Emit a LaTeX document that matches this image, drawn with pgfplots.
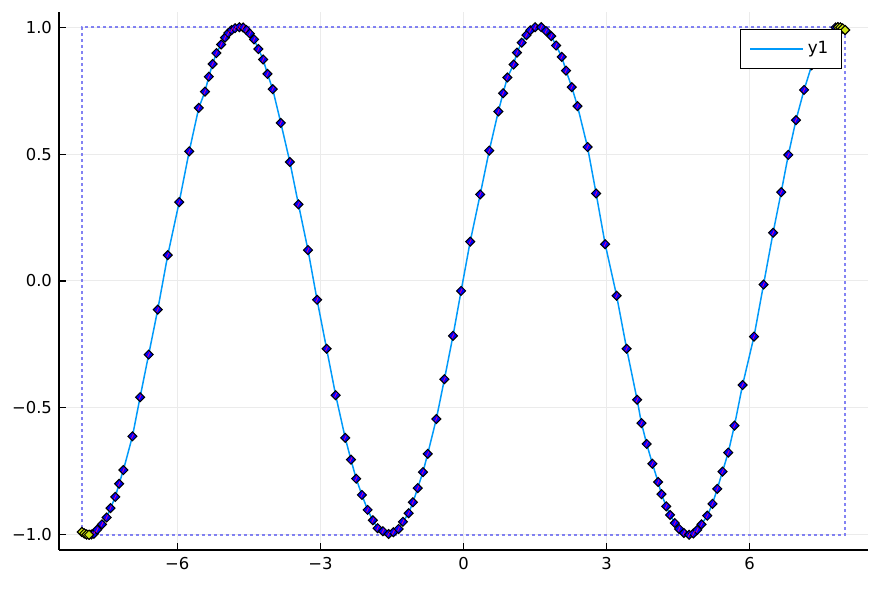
\documentclass[border=0pt]{standalone}
\usepackage{fontspec}
\setmainfont{DejaVu Sans}
\usepackage{pgfplots}
\pgfplotsset{compat=1.18}
\usepackage{pgfplotstable}

\definecolor{juliablue}{RGB}{0,154,250}
\definecolor{boxblue}{RGB}{100,100,240}

% points
\pgfplotstableread{
x y
-8.00 -0.989
-7.95 -0.995
-7.90 -0.999
-7.85 -1.000
-7.80 -0.999
-7.75 -0.996
-7.68 -0.980
-7.58 -0.959
-7.48 -0.932
-7.40 -0.895
-7.30 -0.851
-7.22 -0.799
-7.13 -0.745
-6.94 -0.612
-6.78 -0.458
-6.60 -0.290
-6.41 -0.113
-6.20 0.102
-5.96 0.311
-5.75 0.511
-5.55 0.682
-5.42 0.746
-5.34 0.805
-5.26 0.855
-5.18 0.898
-5.08 0.932
-5.00 0.959
-4.93 0.977
-4.86 0.989
-4.79 0.996
-4.70 1.000
-4.62 0.999
-4.55 0.989
-4.48 0.975
-4.39 0.952
-4.30 0.914
-4.20 0.873
-4.11 0.816
-4.00 0.756
-3.83 0.623
-3.64 0.469
-3.46 0.302
-3.26 0.122
-3.07 -0.074
-2.87 -0.267
-2.68 -0.450
-2.48 -0.618
-2.36 -0.704
-2.25 -0.779
-2.13 -0.843
-2.01 -0.902
-1.90 -0.943
-1.80 -0.974
-1.69 -0.986
-1.57 -0.997
-1.47 -0.990
-1.36 -0.977
-1.27 -0.949
-1.15 -0.915
-1.06 -0.872
-0.96 -0.816
-0.85 -0.753
-0.75 -0.681
-0.57 -0.544
-0.40 -0.387
-0.22 -0.216
-0.05 -0.039
0.14 0.155
0.35 0.341
0.54 0.514
0.73 0.668
0.83 0.740
0.92 0.802
1.05 0.853
1.12 0.900
1.22 0.939
1.32 0.969
1.40 0.988
1.50 1.000
1.63 1.000
1.73 0.985
1.84 0.965
1.94 0.928
2.06 0.883
2.15 0.829
2.27 0.764
2.39 0.689
2.60 0.528
2.78 0.345
2.97 0.145
3.21 -0.058
3.42 -0.267
3.64 -0.468
3.73 -0.560
3.84 -0.642
3.96 -0.720
4.08 -0.792
4.15 -0.840
4.25 -0.888
4.33 -0.922
4.43 -0.954
4.52 -0.977
4.62 -0.993
4.73 -1.000
4.82 -0.995
4.90 -0.981
4.99 -0.959
5.11 -0.925
5.22 -0.878
5.32 -0.819
5.43 -0.751
5.55 -0.676
5.68 -0.570
5.85 -0.410
6.09 -0.219
6.29 -0.014
6.49 0.190
6.66 0.350
6.81 0.497
6.97 0.634
7.14 0.753
7.30 0.850
7.48 0.930
7.63 0.971
7.80 0.999
7.85 1.000
7.90 0.999
7.95 0.995
8.00 0.989
}\sinedata

\begin{document}
\begin{tikzpicture}
\begin{axis}[
    scale only axis,
    width=404.5pt, height=269pt,
    xmin=-8.48, xmax=8.48,
    ymin=-1.06, ymax=1.06,
    axis x line=bottom, axis y line=left,
    axis line style={-, line width=0.6pt},
    xtick={-6,-3,0,3,6}, xticklabels={−6,−3,0,3,6},
    ytick={-1,-0.5,0,0.5,1}, yticklabels={−1.0,−0.5,0.0,0.5,1.0},
    tick align=inside, major tick length=3.5pt,
    tick style={black, line width=0.6pt},
    grid=major, major grid style={black!8, line width=0.5pt},
    ticklabel style={font=\fontsize{8.2}{10}\selectfont},
    legend style={at={(1,1)}, anchor=north east, xshift=-13pt, yshift=-8.5pt,
        draw=black, line width=0.6pt, fill=white,
        inner xsep=4.5pt, inner ysep=4pt,
        font=\fontsize{8.4}{10}\selectfont},
    legend image code/.code={\draw[#1, mark=none] (0pt,0pt) -- (26.5pt,0pt);},
]
\addplot[boxblue, dash pattern=on 1.6pt off 1.4pt, line width=0.75pt, opacity=0.8, forget plot]
    coordinates {(-8,-1) (8,-1) (8,1) (-8,1) (-8,-1)};
\addplot[juliablue, line width=0.75pt] table {\sinedata};
\addlegendentry{y1\hspace{7pt}}
\addplot[only marks, mark=square*, mark size=1.6pt, forget plot,
    mark options={rotate=45, fill=blue, draw=black, line width=0.5pt}]
    table {\sinedata};
\addplot[only marks, mark=|, mark size=1.2pt, forget plot,
    mark options={draw=magenta, rotate=-25, line width=0.4pt}]
    table {\sinedata};
\addplot[only marks, mark=square*, mark size=1.6pt, forget plot,
    mark options={rotate=45, fill=yellow!80!green, draw=black, line width=0.5pt}]
    coordinates {(-8.00,-0.989) (-7.95,-0.995) (-7.90,-0.999) (-7.85,-1.000)
                 (7.85,1.000) (7.90,0.999) (7.95,0.995) (8.00,0.989)};
\end{axis}
\pgfresetboundingbox
\path[use as bounding box]
    ([shift={(-29.5pt,-19.5pt)}]current axis.south west)
    rectangle ([shift={(6pt,6pt)}]current axis.north east);
\end{tikzpicture}
\end{document}
